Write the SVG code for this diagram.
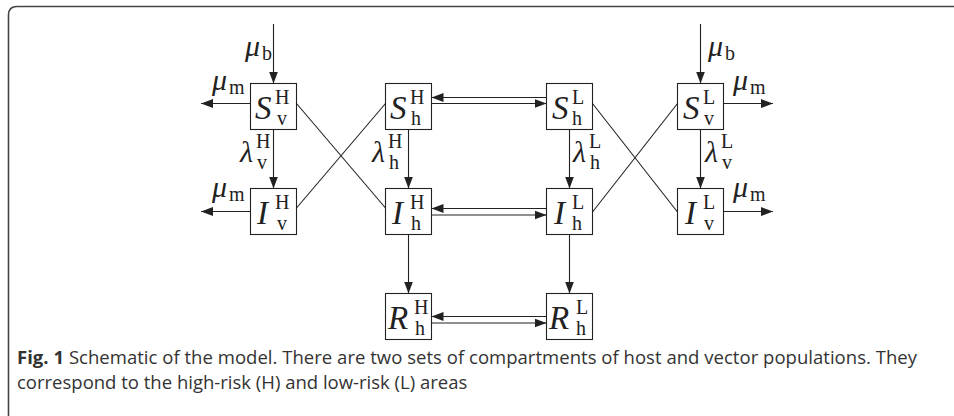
<svg xmlns="http://www.w3.org/2000/svg" width="954" height="416" viewBox="0 0 954 416">
<style>
.box{fill:#fff;stroke:#222;stroke-width:1.1}
.ln{stroke:#222;stroke-width:1.1;fill:none}
.ar{stroke:#222;stroke-width:1.1;fill:none;marker-end:url(#ah)}
.m{font-family:"Liberation Serif","DejaVu Serif",serif;font-style:italic;font-size:30px;fill:#222}
.b{font-family:"Liberation Serif","DejaVu Serif",serif;font-style:italic;font-size:33px;fill:#222}
.s{font-family:"Liberation Serif","DejaVu Serif",serif;font-style:normal;font-size:20px;fill:#222}
.cap{font-family:"Open Sans","Liberation Sans",sans-serif;font-size:18.5px;fill:#333}
</style>
<defs>
<marker id="ah" markerUnits="userSpaceOnUse" markerWidth="14" markerHeight="10" refX="12" refY="5" orient="auto">
<path d="M0,0.5 L12,5 L0,9.5 Z" fill="#222"/>
</marker>
</defs>
<rect width="954" height="416" fill="#fff"/>
<path d="M8.5,416 V15 Q8.5,6.5 17,6.5 H954" fill="none" stroke="#444" stroke-width="1.6"/>

<g id="connectors">
<line class="ar" x1="273.5" y1="24" x2="273.5" y2="83.5"/>
<line class="ar" x1="700.5" y1="24" x2="700.5" y2="83.5"/>
<line class="ar" x1="250.5" y1="103.5" x2="201" y2="103.5"/>
<line class="ar" x1="250.5" y1="211.5" x2="201" y2="211.5"/>
<line class="ar" x1="723.5" y1="103.5" x2="773" y2="103.5"/>
<line class="ar" x1="723.5" y1="211.5" x2="773" y2="211.5"/>
<line class="ar" x1="273.5" y1="129.5" x2="273.5" y2="188.5"/>
<line class="ar" x1="408.5" y1="129.5" x2="408.5" y2="188.5"/>
<line class="ar" x1="569.5" y1="129.5" x2="569.5" y2="188.5"/>
<line class="ar" x1="700.5" y1="129.5" x2="700.5" y2="188.5"/>
<line class="ar" x1="408.5" y1="234.5" x2="408.5" y2="293.5"/>
<line class="ar" x1="569.5" y1="234.5" x2="569.5" y2="293.5"/>
<line class="ar" x1="546.5" y1="97.5" x2="431.5" y2="97.5"/>
<line class="ar" x1="431.5" y1="103.5" x2="546.5" y2="103.5"/>
<line class="ar" x1="546.5" y1="208.5" x2="431.5" y2="208.5"/>
<line class="ar" x1="431.5" y1="215" x2="546.5" y2="215"/>
<line class="ar" x1="546.5" y1="316.5" x2="431.5" y2="316.5"/>
<line class="ar" x1="431.5" y1="323" x2="546.5" y2="323"/>
<line class="ln" x1="296.5" y1="103.5" x2="385.5" y2="208"/>
<line class="ln" x1="385.5" y1="103.5" x2="296.5" y2="208"/>
<line class="ln" x1="592.5" y1="103.5" x2="677.5" y2="212"/>
<line class="ln" x1="677.5" y1="103.5" x2="592.5" y2="212"/>
<text class="m" x="245" y="56">μ</text><text class="s" x="262" y="60">b</text>
<text class="m" x="708" y="56">μ</text><text class="s" x="725" y="60">b</text>
<text class="m" x="212" y="90">μ</text><text class="s" x="229" y="94">m</text>
<text class="m" x="212" y="197">μ</text><text class="s" x="229" y="201">m</text>
<text class="m" x="733" y="90">μ</text><text class="s" x="750" y="94">m</text>
<text class="m" x="733" y="197">μ</text><text class="s" x="750" y="201">m</text>
<text class="m" x="240" y="162">λ</text><text class="s" x="256" y="148">H</text><text class="s" x="257" y="169">v</text>
<text class="m" x="372" y="162">λ</text><text class="s" x="388" y="148">H</text><text class="s" x="389" y="169">h</text>
<text class="m" x="573" y="162">λ</text><text class="s" x="589" y="148">L</text><text class="s" x="590" y="169">h</text>
<text class="m" x="705" y="162">λ</text><text class="s" x="721" y="148">L</text><text class="s" x="722" y="169">v</text>
</g>

<g id="SvH"><rect class="box" x="250.5" y="83.5" width="46" height="46"/><text class="b" x="255" y="119">S</text><text class="s" x="275" y="104">H</text><text class="s" x="277" y="125">v</text></g>
<g id="ShH"><rect class="box" x="385.5" y="83.5" width="46" height="46"/><text class="b" x="390" y="119">S</text><text class="s" x="410" y="104">H</text><text class="s" x="411" y="125">h</text></g>
<g id="ShL"><rect class="box" x="546.5" y="83.5" width="46" height="46"/><text class="b" x="552" y="119">S</text><text class="s" x="572" y="104">L</text><text class="s" x="572" y="125">h</text></g>
<g id="SvL"><rect class="box" x="677.5" y="83.5" width="46" height="46"/><text class="b" x="683" y="119">S</text><text class="s" x="703" y="104">L</text><text class="s" x="704" y="125">v</text></g>

<g id="IvH"><rect class="box" x="250.5" y="188.5" width="46" height="46"/><text class="b" x="257" y="224">I</text><text class="s" x="275" y="209">H</text><text class="s" x="277" y="230">v</text></g>
<g id="IhH"><rect class="box" x="385.5" y="188.5" width="46" height="46"/><text class="b" x="392" y="224">I</text><text class="s" x="410" y="209">H</text><text class="s" x="411" y="230">h</text></g>
<g id="IhL"><rect class="box" x="546.5" y="188.5" width="46" height="46"/><text class="b" x="554" y="224">I</text><text class="s" x="572" y="209">L</text><text class="s" x="572" y="230">h</text></g>
<g id="IvL"><rect class="box" x="677.5" y="188.5" width="46" height="46"/><text class="b" x="685" y="224">I</text><text class="s" x="703" y="209">L</text><text class="s" x="704" y="230">v</text></g>

<g id="RhH"><rect class="box" x="385.5" y="293.5" width="46" height="46"/><text class="b" x="388" y="329">R</text><text class="s" x="414" y="314">H</text><text class="s" x="415" y="335">h</text></g>
<g id="RhL"><rect class="box" x="546.5" y="293.5" width="46" height="46"/><text class="b" x="549" y="329">R</text><text class="s" x="576" y="314">L</text><text class="s" x="576" y="335">h</text></g>

<g id="caption">
<text class="cap" x="17" y="364" textLength="900" lengthAdjust="spacing"><tspan font-weight="bold">Fig. 1</tspan>  Schematic of the model. There are two sets of compartments of host and vector populations. They</text>
<text class="cap" x="17" y="389">correspond to the high-risk (H) and low-risk (L) areas</text>
</g>
</svg>
